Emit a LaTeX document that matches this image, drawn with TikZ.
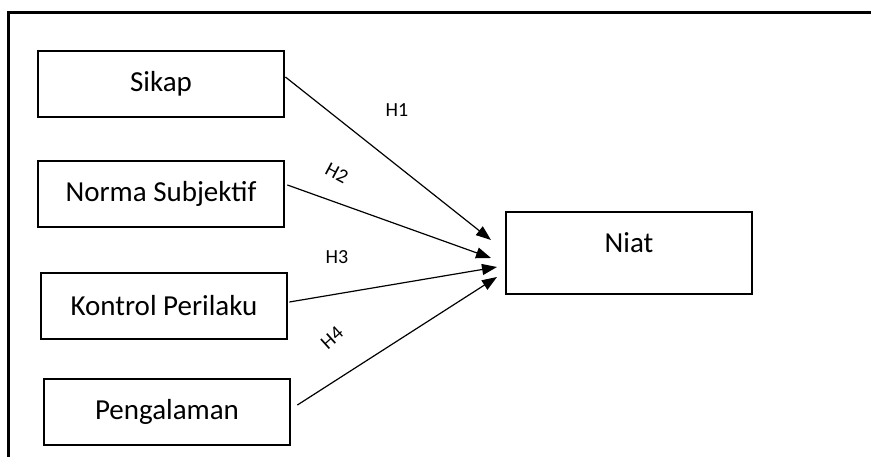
\documentclass[tikz,border=0pt]{standalone}
\usepackage{fontspec}
\setmainfont{Carlito}
\usetikzlibrary{arrows.meta}

\tikzset{
    varbox/.style={draw, line width=2.8bp, minimum width=246bp, minimum height=66bp, inner sep=3bp, font=\fontsize{29bp}{33bp}\selectfont},
    hyp/.style={font=\fontsize{20bp}{24bp}\selectfont, inner sep=1bp},
    path/.style={line width=1.2bp, -{Triangle[length=15bp,width=11bp]}}
}

\begin{document}
\begin{tikzpicture}[x=1bp,y=1bp]

    \useasboundingbox (0,0) rectangle (871,-457);

    % Frame (top and left edges only)
    \draw[line width=3bp] (8,-457) -- (8,-13) -- (871,-13);

    % Variables
    \node[varbox] (sikap) at (161,-84) {Sikap};
    \node[varbox] (norma) at (161,-194) {Norma Subjektif};
    \node[varbox] (kontrol) at (164,-306) {Kontrol Perilaku};
    \node[varbox] (pengalaman) at (167,-412) {Pengalaman};
    \node[varbox, minimum height=82bp, text depth=20bp] (niat) at (629,-253) {Niat};

    % Arrow tips near Niat
    \coordinate (t1) at (491,-240);
    \coordinate (t2) at (491,-258);
    \coordinate (t3) at (497,-267);
    \coordinate (t4) at (497,-277);

    % Paths
    \draw[path] ([yshift=7bp]sikap.east) -- (t1);
    \draw[path] ([xshift=2bp,yshift=9bp]norma.east) -- (t2);
    \draw[path] ([xshift=1bp,yshift=4bp]kontrol.east) -- (t3);
    \draw[path] ([xshift=6bp,yshift=7bp]pengalaman.east) -- (t4);

    % Hypothesis labels
    \node[hyp] (h1) at (397,-110) {H1};
    \node[hyp, rotate=-28] (h2) at (337,-173) {H2};
    \node[hyp] (h3) at (337,-257) {H3};
    \node[hyp, rotate=42] (h4) at (332,-338) {H4};

\end{tikzpicture}
\end{document}
